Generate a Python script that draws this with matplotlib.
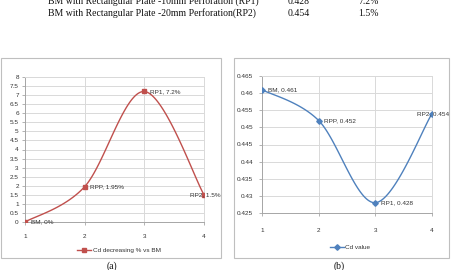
import numpy as np
import matplotlib
matplotlib.use("Agg")
import matplotlib.pyplot as plt
from matplotlib.patches import Rectangle
from matplotlib.lines import Line2D

# -----------------------------
# data
# -----------------------------
x_pos = [1, 2, 3, 4]
names = ["BM", "RPP", "RP1", "RP2"]
cd_decrease = [0, 1.95, 7.2, 1.5]          # % vs BM
cd_decrease_txt = ["0%", "1.95%", "7.2%", "1.5%"]
cd_value = [0.461, 0.452, 0.428, 0.454]
cd_value_txt = ["0.461", "0.452", "0.428", "0.454"]

table_rows = ["BM with Rectangular Plate -10mm Perforation (RP1)",
              "BM with Rectangular Plate -20mm Perforation(RP2)"]
table_cd = ["0.428", "0.454"]
table_pct = ["7.2%", "1.5%"]

W, H = 453, 270
RED = "#C0504D"
BLUE = "#4F81BD"
GRID = "#D9D9D9"
TXT = "#333333"
SANS = ["Liberation Sans", "DejaVu Sans"]
SERIF = ["Liberation Serif", "DejaVu Serif"]


def smooth(x, y, n=40):
    # Excel-style smoothed line (Catmull-Rom as cubic Bezier)
    pts = np.column_stack([x, y]).astype(float)
    ext = np.vstack([pts[0], pts, pts[-1]])
    t = np.linspace(0, 1, n)[:, None]
    out = []
    for i in range(len(pts) - 1):
        p0, p1, p2, p3 = ext[i], ext[i + 1], ext[i + 2], ext[i + 3]
        c1 = p1 + (p2 - p0) / 6
        c2 = p2 - (p3 - p1) / 6
        out.append((1 - t) ** 3 * p1 + 3 * (1 - t) ** 2 * t * c1
                   + 3 * (1 - t) * t ** 2 * c2 + t ** 3 * p2)
    return np.vstack(out)


def fx(px):
    return px / W


def fy(py):
    return 1 - py / H


fig = plt.figure(figsize=(W / 100, H / 100), dpi=100)

# table text above the charts (cut off at the top, as in the page crop)
for i, (row, cd, pct) in enumerate(zip(table_rows, table_cd, table_pct)):
    yb = fy(4 + 12 * i)
    fig.text(fx(48), yb, row, family=SERIF, size=7, va="baseline", color="#111111")
    fig.text(fx(288), yb, cd, family=SERIF, size=7, va="baseline", color="#111111")
    fig.text(fx(379), yb, pct, family=SERIF, size=7, va="baseline", ha="right",
             color="#111111")

# panel frames
for x0, x1 in [(1, 221), (234, 449)]:
    fig.add_artist(Rectangle((fx(x0), fy(258)), (x1 - x0) / W, 200 / H,
                             transform=fig.transFigure, fill=False,
                             ec="#BFBFBF", lw=0.8))


def style(ax):
    for s in ax.spines.values():
        s.set_color(GRID)
        s.set_linewidth(0.7)
    ax.spines["left"].set_color("#A6A6A6")
    ax.spines["bottom"].set_color("#A6A6A6")
    ax.grid(True, color=GRID, lw=0.7)
    ax.set_axisbelow(True)
    ax.set_xticks(x_pos)
    ax.tick_params(labelsize=4.6, colors="#A6A6A6", labelcolor=TXT, length=2.5,
                   width=0.6)
    for lab in ax.get_xticklabels() + ax.get_yticklabels():
        lab.set_family(SANS)


# -----------------------------
# (a) Cd decreasing %
# -----------------------------
ax1 = fig.add_axes([fx(25), fy(222), 179 / W, 145 / H])
c = smooth(x_pos, cd_decrease)
ax1.plot(c[:, 0], c[:, 1], color=RED, lw=1.0, zorder=3)
ax1.plot(x_pos, cd_decrease, ls="none", marker="s", ms=2.8, color=RED, zorder=4)
ax1.set_xlim(1, 4)
ax1.set_ylim(0, 8)
ax1.set_yticks(np.arange(0, 8.01, 0.5))
ax1.set_yticklabels(["%g" % v for v in np.arange(0, 8.01, 0.5)])
style(ax1)
ax1.tick_params(axis="x", pad=6)
ax1.tick_params(axis="y", pad=2)
for i, (xv, yv) in enumerate(zip(x_pos, cd_decrease)):
    last = i == len(x_pos) - 1
    ax1.annotate(f"{names[i]}, {cd_decrease_txt[i]}", (xv, yv),
                 xytext=(12 if last else 4, 0), textcoords="offset points",
                 ha="right" if last else "left", va="center", fontsize=4.6,
                 family=SANS, color=TXT, annotation_clip=False, zorder=5)

# -----------------------------
# (b) Cd value
# -----------------------------
ax2 = fig.add_axes([fx(262), fy(213), 170 / W, 137 / H])
c = smooth(x_pos, cd_value)
ax2.plot(c[:, 0], c[:, 1], color=BLUE, lw=1.0, zorder=3)
ax2.plot(x_pos, cd_value, ls="none", marker="D", ms=2.8, color=BLUE, zorder=4)
ax2.set_xlim(1, 4)
ax2.set_ylim(0.425, 0.465)
yt = np.round(np.arange(0.425, 0.4651, 0.005), 3)
ax2.set_yticks(yt)
ax2.set_yticklabels(["%g" % v for v in yt])
style(ax2)
ax2.tick_params(axis="x", pad=8)
ax2.tick_params(axis="y", pad=4)
for i, (xv, yv) in enumerate(zip(x_pos, cd_value)):
    last = i == len(x_pos) - 1
    ax2.annotate(f"{names[i]}, {cd_value_txt[i]}", (xv, yv),
                 xytext=(12 if last else 4, 0), textcoords="offset points",
                 ha="right" if last else "left", va="center", fontsize=4.6,
                 family=SANS, color=TXT, annotation_clip=False, zorder=5)

# legends below each chart
for lx, ly, col, mk, lab in [(119, 250, RED, "s", "Cd decreasing % vs BM"),
                             (350, 247, BLUE, "D", "Cd value")]:
    h = Line2D([], [], color=col, lw=1.0, marker=mk, ms=2.8)
    fig.legend([h], [lab], loc="center", bbox_to_anchor=(fx(lx), fy(ly)),
               frameon=False, prop={"family": SANS, "size": 4.6},
               handlelength=2.2, handletextpad=0.3, labelcolor=TXT)

# captions
fig.text(fx(112), fy(266), "(a)", family=SERIF, size=7, ha="center", va="center",
         color="#111111")
fig.text(fx(339), fy(266), "(b)", family=SERIF, size=7, ha="center", va="center",
         color="#111111")

fig.savefig("out.png", dpi=100)
